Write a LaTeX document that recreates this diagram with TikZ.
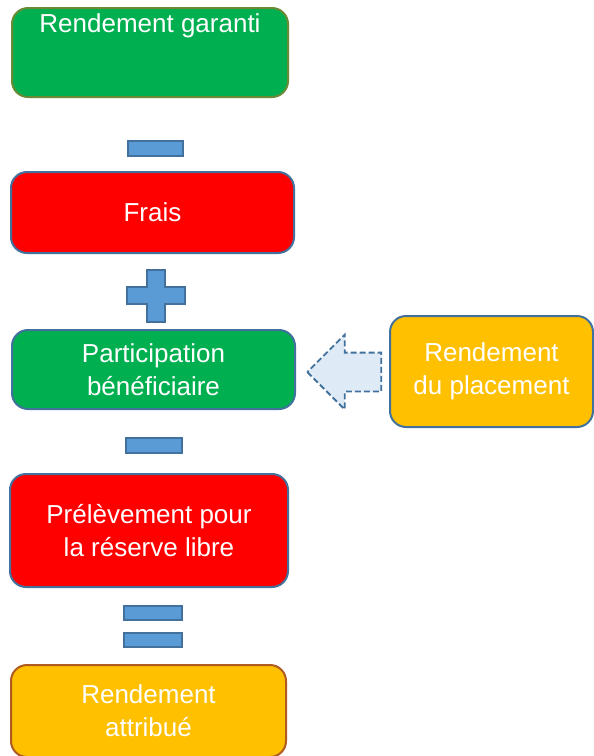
\documentclass[tikz,border=0pt]{standalone}
\usepackage{fontspec}
\setmainfont{Liberation Sans}
\usepackage{tikz}
\usetikzlibrary{shapes.arrows}

\definecolor{boxgreen}{HTML}{00B050}
\definecolor{boxred}{HTML}{FF0000}
\definecolor{boxorange}{HTML}{FFC000}
\definecolor{edgeblue}{HTML}{41719C}
\definecolor{edgeolive}{HTML}{6A8A35}
\definecolor{edgebrown}{HTML}{AE5A21}
\definecolor{opblue}{HTML}{5B9BD5}
\definecolor{arrowfill}{HTML}{DEEBF7}

\begin{document}
\begin{tikzpicture}[x=1pt,y=-1pt,
    stepbox/.style={rectangle, rounded corners=16pt, line width=2pt, draw=edgeblue,
        text=white, align=center, inner sep=0pt, font=\fontsize{26}{33}\selectfont},
    opbar/.style={rectangle, fill=opblue, draw=edgeblue, line width=2pt, inner sep=0pt},
    feedarrow/.style={single arrow, shape border rotate=180, fill=arrowfill, draw=edgeblue,
        line width=1.8pt, dash pattern=on 6pt off 3pt, inner xsep=0pt, inner ysep=18.5pt,
        minimum height=74pt, single arrow head extend=18pt}]
    \useasboundingbox (0,0) rectangle (594,756);

    % draws boxes
    \node[stepbox, fill=boxgreen, draw=edgeolive, minimum width=276pt, minimum height=89pt] (garanti) at (150,52.5) {};
    \node[text=white, font=\fontsize{26}{33}\selectfont, anchor=base] (garantitext) at ([yshift=-25pt]garanti.north) {Rendement garanti};
    \node[stepbox, fill=boxred, minimum width=283pt, minimum height=81pt] (frais) at (152.5,212.5) {Frais};
    \node[stepbox, fill=boxgreen, minimum width=283pt, minimum height=79pt] (partbenef) at (153.5,369.5) {Participation\\bénéficiaire};
    \node[stepbox, fill=boxorange, minimum width=203pt, minimum height=111pt] (placement) at (491.5,371.5) {Rendement\\du placement};
    \node[stepbox, fill=boxred, minimum width=278pt, minimum height=113pt] (reserve) at (149,530.5) {Prélèvement pour\\la réserve libre};
    \node[stepbox, fill=boxorange, draw=edgebrown, minimum width=275pt, minimum height=92pt] (attribue) at (148.5,711) {Rendement\\attribué};

    % draws operators
    \node[opbar, minimum width=55pt, minimum height=15pt] (minusa) at (155.5,148.5) {};
    \draw[fill=opblue, draw=edgeblue, line width=2pt]
        (147,270) -- (165,270) -- (165,287) -- (185,287) -- (185,304) -- (165,304)
        -- (165,322) -- (147,322) -- (147,304) -- (127,304) -- (127,287) -- (147,287) -- cycle;
    \node[opbar, minimum width=56pt, minimum height=15pt] (minusb) at (154,445.5) {};
    \node[opbar, minimum width=58pt, minimum height=14pt] (equala) at (153,613) {};
    \node[opbar, minimum width=58pt, minimum height=14pt] (equalb) at (153,640) {};

    % draws block arrow
    \node[feedarrow, anchor=tip] (feed) at ([xshift=10pt,yshift=-2.5pt]partbenef.east) {};
\end{tikzpicture}
\end{document}
